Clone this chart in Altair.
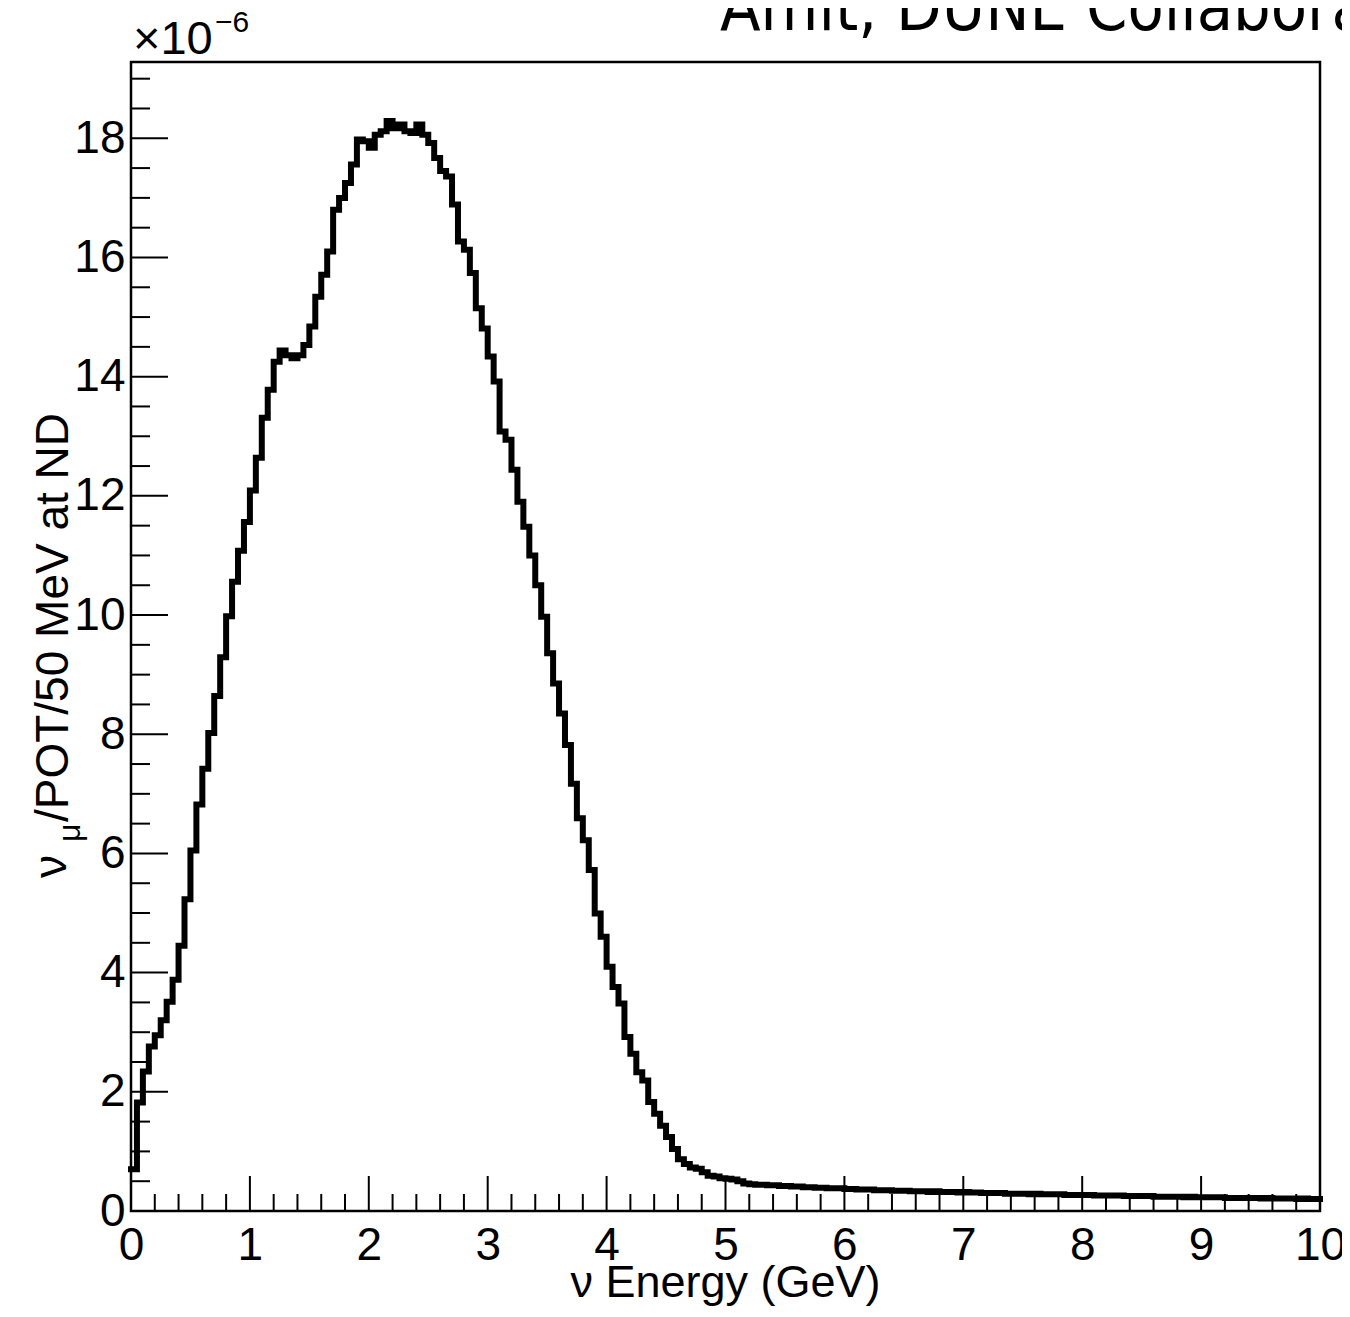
import altair as alt
import pandas as pd

# ---- data: nu_mu flux per POT per 50 MeV bin (x 1e-6), bins of 0.05 GeV from 0 to 10 GeV
BIN_WIDTH = 0.05
flux_low = [  # bins 0-105 (0.00 - 5.25 GeV)
    0.70, 1.82, 2.34, 2.76, 2.95, 3.20, 3.51, 3.88, 4.45, 5.23,
    6.05, 6.82, 7.42, 8.02, 8.64, 9.29, 9.98, 10.56, 11.08, 11.56,
    12.09, 12.64, 13.31, 13.78, 14.25, 14.44, 14.36, 14.31, 14.36, 14.53,
    14.84, 15.34, 15.71, 16.10, 16.80, 17.00, 17.25, 17.56, 17.98, 17.95,
    17.84, 18.06, 18.12, 18.29, 18.17, 18.23, 18.12, 18.09, 18.23, 18.06,
    17.92, 17.67, 17.45, 17.36, 16.89, 16.27, 16.13, 15.74, 15.15, 14.81,
    14.34, 13.92, 13.08, 12.94, 12.44, 11.90, 11.48, 11.00, 10.50, 9.97,
    9.36, 8.85, 8.35, 7.82, 7.17, 6.59, 6.22, 5.72, 4.99, 4.60,
    4.10, 3.76, 3.48, 2.92, 2.64, 2.33, 2.19, 1.83, 1.63, 1.43,
    1.24, 1.04, 0.87, 0.79, 0.73, 0.71, 0.65, 0.59, 0.58, 0.55,
    0.54, 0.53, 0.50, 0.46, 0.45, 0.44,
]
flux_tail = [  # bins 106-199 (5.30 - 9.95 GeV)
    0.44, 0.43, 0.43, 0.42, 0.42, 0.41, 0.41, 0.40, 0.40, 0.39, 0.39, 0.38, 0.38, 0.38,
    0.37, 0.37, 0.36, 0.36, 0.36, 0.35, 0.35, 0.35, 0.34, 0.34, 0.34, 0.33, 0.33, 0.33, 0.32, 0.33, 0.32, 0.32, 0.32, 0.31,
    0.32, 0.31, 0.31, 0.30, 0.30, 0.30, 0.30, 0.29, 0.29, 0.29, 0.29, 0.28, 0.29, 0.28, 0.28, 0.28, 0.28, 0.27, 0.27, 0.27,
    0.27, 0.27, 0.26, 0.26, 0.26, 0.26, 0.26, 0.25, 0.25, 0.25, 0.25, 0.25, 0.24, 0.24, 0.24, 0.24, 0.24, 0.23, 0.24, 0.23,
    0.23, 0.23, 0.23, 0.23, 0.22, 0.22, 0.22, 0.22, 0.22, 0.22, 0.21, 0.22, 0.21, 0.21, 0.21, 0.21, 0.20, 0.21, 0.20, 0.20,
]
flux = flux_low + flux_tail

X_LABELS = [0, 1, 2, 3, 4, 5, 6, 7, 8, 9, 10]
Y_LABELS = [0, 2, 4, 6, 8, 10, 12, 14, 16, 18]
X_MINOR = [round(i * 0.2, 2) for i in range(51) if i % 5 != 0]
Y_MINOR = [round(i * 0.5, 2) for i in range(39) if i % 4 != 0]
Y_MAX = 19.28

X_TITLE = "ν Energy (GeV)"
Y_TITLE_NU = "ν"
Y_TITLE_MU = "μ"
Y_TITLE_REST = "/POT/50 MeV at ND"
EXP_BASE = "×10"
EXP_POWER = "−6"
TOP_TEXT = "Amit, DUNE Collaboration"

W, H = 1189, 1149
FONT = "Liberation Sans"

edges = [round(i * BIN_WIDTH, 3) for i in range(len(flux))] + [10.0]
vals = flux + [flux[-1]]
df = pd.DataFrame({"E": edges, "flux": vals})

xscale = alt.Scale(domain=[0, 10], nice=False, zero=False)
yscale = alt.Scale(domain=[0, Y_MAX], nice=False, zero=False)

line = alt.Chart(df).mark_line(
    interpolate="step-after", color="black", strokeWidth=6,
    strokeCap="square", strokeJoin="miter"
).encode(
    x=alt.X("E:Q", scale=xscale, axis=alt.Axis(
        values=X_LABELS, title=None, ticks=False, domain=False, grid=False,
        labelFont=FONT, labelFontSize=46, labelColor="black",
        labelPadding=12, labelFlush=False, labelOverlap=False)),
    y=alt.Y("flux:Q", scale=yscale, axis=alt.Axis(
        values=Y_LABELS, title=None, ticks=False, domain=False, grid=False,
        labelFont=FONT, labelFontSize=46, labelColor="black",
        labelPadding=6, labelFlush=False, labelOverlap=False)),
)

ymaj = alt.Chart(pd.DataFrame({"v": Y_LABELS})).mark_rule(color="black", strokeWidth=2).encode(
    y=alt.Y("v:Q", scale=yscale, axis=None), x=alt.value(0), x2=alt.value(37))
ymin = alt.Chart(pd.DataFrame({"v": Y_MINOR})).mark_rule(color="black", strokeWidth=2).encode(
    y=alt.Y("v:Q", scale=yscale, axis=None), x=alt.value(0), x2=alt.value(19))
xmaj = alt.Chart(pd.DataFrame({"v": X_LABELS})).mark_rule(color="black", strokeWidth=2).encode(
    x=alt.X("v:Q", scale=xscale, axis=None), y=alt.value(H), y2=alt.value(H - 35))
xmin = alt.Chart(pd.DataFrame({"v": X_MINOR})).mark_rule(color="black", strokeWidth=2).encode(
    x=alt.X("v:Q", scale=xscale, axis=None), y=alt.value(H), y2=alt.value(H - 17))


def label(text, x, y, size, angle=0, align="left", font=FONT):
    return alt.Chart(pd.DataFrame({"t": [text]})).mark_text(
        font=font, fontSize=size, color="black", align=align,
        baseline="alphabetic", angle=angle
    ).encode(text="t:N", x=alt.value(x), y=alt.value(y))


texts = [
    label(X_TITLE, W / 2, 1297 - 62, 45, align="center"),
    label(Y_TITLE_NU, 66 - 131, 878 - 62, 46, angle=270),
    label(Y_TITLE_MU, 80 - 131, 842 - 62, 32, angle=270),
    label(Y_TITLE_REST, 68 - 131, 822 - 62, 46, angle=270),
    label(EXP_BASE, 133 - 131, 54 - 62, 47),
    label(EXP_POWER, 215 - 131, 32 - 62, 30),
    label(TOP_TEXT, 720 - 131, 30 - 62, 66, font="DejaVu Sans Condensed, DejaVu Sans"),
]

chart = alt.layer(line, ymaj, ymin, xmaj, xmin, *texts).resolve_axis(
    x="independent", y="independent"
).properties(
    width=W, height=H,
    autosize=alt.AutoSizeParams(type="none"),
    padding={"left": 123, "top": 54, "right": 22, "bottom": 98},
).configure(background="white").configure_view(stroke="black", strokeWidth=2.5)

chart.save("out.html", embed_options={"renderer": "svg", "actions": False})
